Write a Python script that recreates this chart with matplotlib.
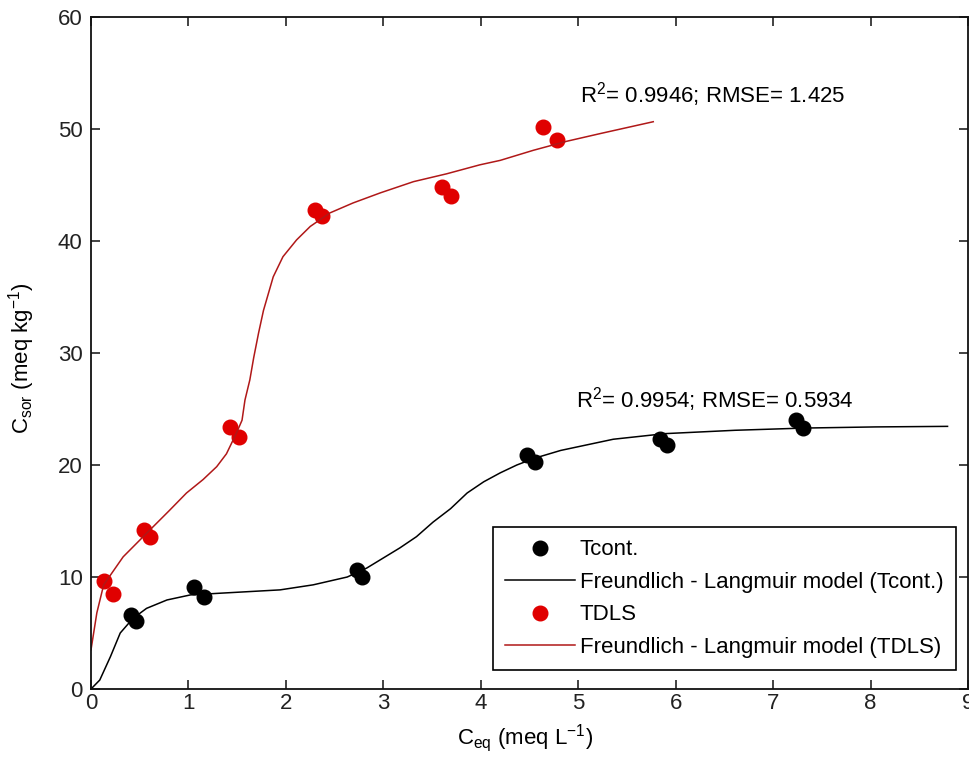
import numpy as np
import matplotlib
matplotlib.use("Agg")
import matplotlib.pyplot as plt

plt.rcParams['font.family'] = ['Liberation Sans', 'DejaVu Sans']
plt.rcParams['mathtext.fontset'] = 'custom'
plt.rcParams['mathtext.rm'] = 'Liberation Sans'
plt.rcParams['mathtext.it'] = 'Liberation Sans:italic'

# measured sorption data (two replicates per concentration)
tcont_ceq = [0.41, 0.46, 1.06, 1.16, 2.73, 2.78, 4.47, 4.56, 5.84, 5.91, 7.24, 7.31]
tcont_csor = [6.6, 6.1, 9.1, 8.2, 10.6, 10.0, 20.9, 20.3, 22.3, 21.8, 24.0, 23.3]

tdls_ceq = [0.13, 0.23, 0.54, 0.61, 1.43, 1.52, 2.30, 2.37, 3.60, 3.69, 4.64, 4.78]
tdls_csor = [9.6, 8.5, 14.2, 13.6, 23.4, 22.5, 42.8, 42.2, 44.8, 44.0, 50.2, 49.0]

# fitted Freundlich - Langmuir curves
tcont_fit_x = [0.0, 0.09, 0.20, 0.30, 0.43, 0.57, 0.78, 1.02, 1.32, 1.94, 2.28, 2.63,
               2.83, 3.00, 3.17, 3.34, 3.51, 3.69, 3.86, 4.03, 4.20, 4.37, 4.55, 4.82,
               5.36, 5.89, 6.61, 7.33, 8.05, 8.79]
tcont_fit_y = [0.0, 0.8, 2.9, 5.0, 6.3, 7.2, 7.95, 8.4, 8.55, 8.85, 9.3, 10.0,
               10.8, 11.7, 12.6, 13.6, 14.9, 16.1, 17.5, 18.5, 19.3, 20.0, 20.6, 21.3,
               22.3, 22.8, 23.1, 23.3, 23.4, 23.45]

tdls_fit_x = [0.0, 0.06, 0.13, 0.33, 0.57, 0.80, 0.98, 1.15, 1.29, 1.39, 1.44, 1.50,
              1.55, 1.58, 1.63, 1.67, 1.72, 1.77, 1.87, 1.97, 2.11, 2.25, 2.45, 2.69,
              2.97, 3.31, 3.65, 3.99, 4.20, 4.54, 4.88, 5.23, 5.77]
tdls_fit_y = [3.5, 6.8, 9.3, 11.8, 13.9, 15.9, 17.5, 18.7, 19.85, 21.0, 21.9, 23.0,
              24.0, 25.8, 27.6, 29.6, 31.8, 33.8, 36.8, 38.6, 40.1, 41.3, 42.5, 43.4,
              44.3, 45.3, 46.0, 46.8, 47.2, 48.1, 48.9, 49.6, 50.65]

fit_stats = {'tcont': (0.9954, 0.5934), 'tdls': (0.9946, 1.425)}

FS = 16
red = '#e00000'

fig = plt.figure(figsize=(9.69, 7.65), dpi=100)
ax = fig.add_axes([91 / 969, 76 / 765, 877 / 969, 672 / 765])

ax.plot(tcont_ceq, tcont_csor, 'o', color='black', markersize=10.5, label='Tcont.')
ax.plot(tcont_fit_x, tcont_fit_y, '-', color='black', lw=1.1,
        label='Freundlich - Langmuir model (Tcont.)')
ax.plot(tdls_ceq, tdls_csor, 'o', color=red, markersize=10.5, label='TDLS')
ax.plot(tdls_fit_x, tdls_fit_y, '-', color='#b01818', lw=1.1,
        label='Freundlich - Langmuir model (TDLS)')

r2, rmse = fit_stats['tdls']
ax.text(5.02, 52.4, r'R$^2$= %.4f; RMSE= %.3f' % (r2, rmse), fontsize=FS, va='baseline')
r2, rmse = fit_stats['tcont']
ax.text(4.98, 25.1, r'R$^2$= %.4f; RMSE= %.4f' % (r2, rmse), fontsize=FS, va='baseline')

ax.set_xlim(0, 9)
ax.set_ylim(0, 60)
ax.set_xticks(range(0, 10))
ax.set_yticks(range(0, 61, 10))
ax.tick_params(direction='in', length=6.3, width=1.2, labelsize=FS,
               top=True, right=True, colors='#222222')
ax.tick_params(axis='x', pad=3)
ax.tick_params(axis='y', pad=6)
for s in ax.spines.values():
    s.set_linewidth(1.3)
    s.set_color('#111111')

fig.text(525 / 969, 1 - 744 / 765, r'C$_{\rm eq}$ (meq L$^{-1}$)', fontsize=FS,
         ha='center', va='baseline')
fig.text(22 / 969, 1 - 358 / 765, r'C$_{\rm sor}$ (meq kg$^{-1}$)', fontsize=FS,
         rotation=90, ha='center', va='center')

leg = ax.legend(loc='lower right', bbox_to_anchor=(0.986, 0.028), borderaxespad=0,
                fontsize=FS, numpoints=1, handlelength=3.15, handletextpad=0.23,
                labelspacing=0.52, borderpad=0.55, fancybox=False, framealpha=1)
leg.get_frame().set_edgecolor('black')
leg.get_frame().set_linewidth(1.2)

fig.savefig('out.png', dpi=100)
